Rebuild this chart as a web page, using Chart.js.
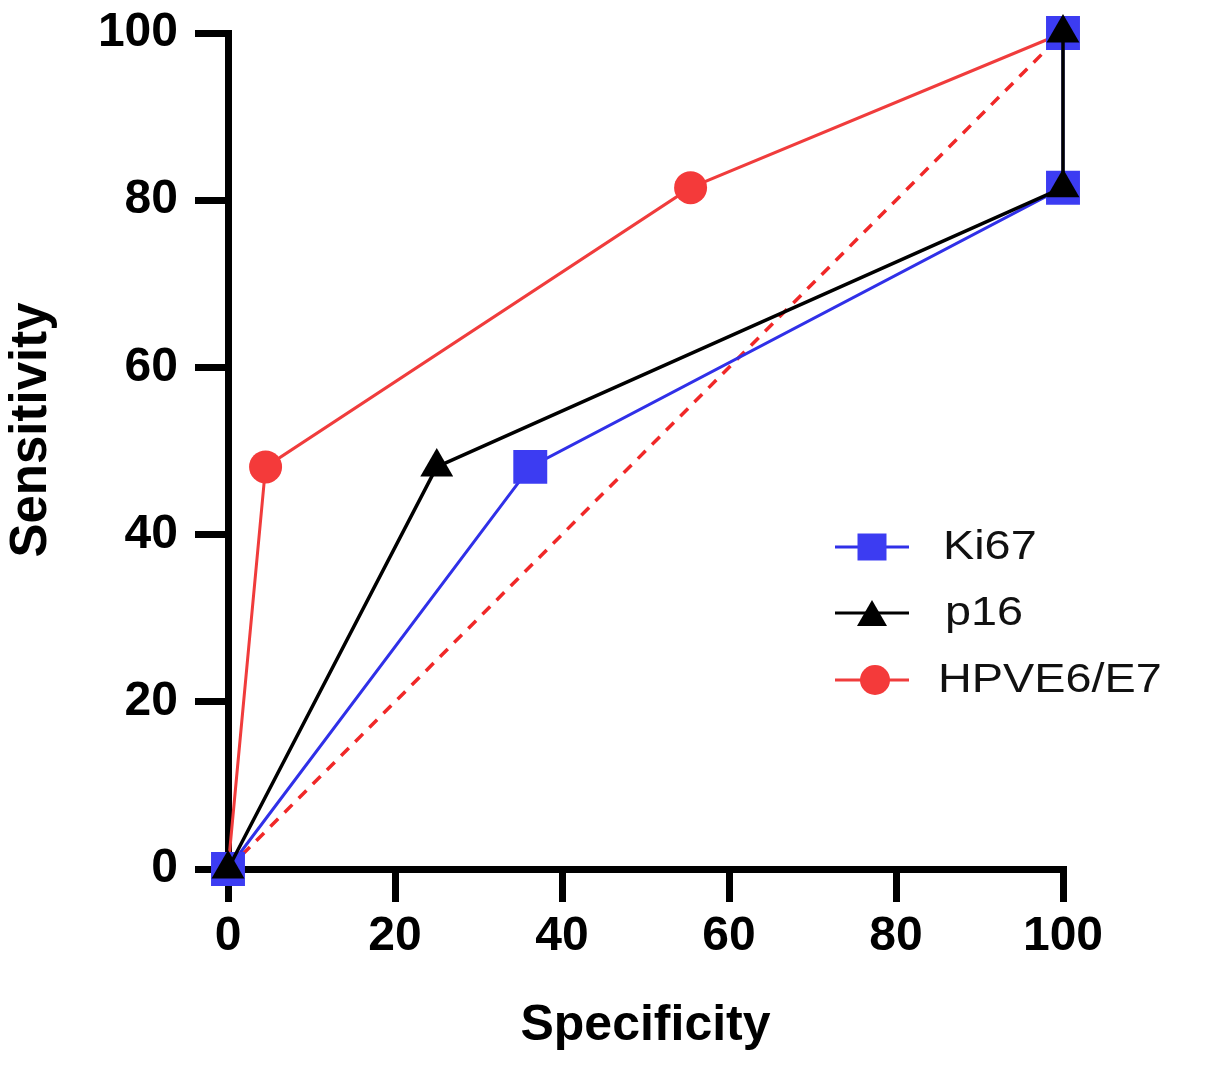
<!DOCTYPE html>
<html>
<head>
<meta charset="utf-8">
<script src="https://cdn.jsdelivr.net/npm/chart.js@4"></script>
<style>
  html, body { margin: 0; padding: 0; background: #fff; }
  #wrap { width: 1205px; height: 1068px; position: relative; }
</style>
</head>
<body>
<div id="wrap"><canvas id="c"></canvas></div>
<script>
// ---- Data ----
const seriesNames = ['Ki67', 'p16', 'HPVE6/E7'];
const ki67Specificity = [0, 36.2, 100, 100];
const ki67Sensitivity = [0, 48.1, 81.5, 100];
const p16Specificity = [0, 25, 100, 100];
const p16Sensitivity = [0, 48.1, 81.5, 100];
const hpvSpecificity = [0, 4.5, 55.4, 100];
const hpvSensitivity = [0, 48.1, 81.5, 100];
const refSpecificity = [0, 100];
const refSensitivity = [0, 100];
const axisTicks = [0, 20, 40, 60, 80, 100];
const xTitle = 'Specificity';
const yTitle = 'Sensitivity';

const toPts = (xs, ys) => xs.map((x, i) => ({ x: x, y: ys[i] }));

const BLUE_LINE = '#3030e8';
const BLUE_PT = '#3c3cf2';
const RED_LINE = '#f03c3c';
const RED_PT = '#f43a3a';
const BLACK = '#000000';

const styles = [
  { line: BLUE_LINE, pt: BLUE_PT, shape: 'rect' },
  { line: BLACK, pt: BLACK, shape: 'triangle' },
  { line: RED_LINE, pt: RED_PT, shape: 'circle' }
];

// custom legend + y title plugin
const decorPlugin = {
  id: 'decor',
  afterDraw(chart) {
    const ctx = chart.ctx;
    ctx.save();
    ctx.font = 'bold 51px "Liberation Sans", Arial, sans-serif';
    ctx.fillStyle = '#000';
    ctx.textAlign = 'center';
    ctx.textBaseline = 'alphabetic';
    ctx.translate(46, 430);
    ctx.rotate(-Math.PI / 2);
    ctx.fillText(yTitle, 0, 0);
    ctx.restore();

    const rowsY = [547, 613, 680];
    const textX = [943, 945, 938];
    seriesNames.forEach((name, i) => {
      const y = rowsY[i];
      const s = styles[i];
      ctx.save();
      ctx.strokeStyle = s.line;
      ctx.lineWidth = 3;
      ctx.beginPath();
      ctx.moveTo(835, y);
      ctx.lineTo(909, y);
      ctx.stroke();
      ctx.fillStyle = s.pt;
      const cx = 872;
      ctx.beginPath();
      if (s.shape === 'rect') {
        ctx.rect(cx - 14.5, y - 13.5, 29, 27);
      } else if (s.shape === 'triangle') {
        ctx.moveTo(cx, y - 13);
        ctx.lineTo(cx + 15, y + 13);
        ctx.lineTo(cx - 15, y + 13);
        ctx.closePath();
      } else {
        ctx.arc(cx + 3, y, 15, 0, Math.PI * 2);
      }
      ctx.fill();
      ctx.restore();

      ctx.save();
      ctx.fillStyle = '#111';
      ctx.font = '40px "Liberation Sans", Arial, sans-serif';
      ctx.textAlign = 'left';
      ctx.textBaseline = 'middle';
      ctx.translate(textX[i], y);
      ctx.scale(1.17, 1);
      ctx.fillText(name, 0, 1);
      ctx.restore();
    });
  }
};

const ctx = document.getElementById('c').getContext('2d');
new Chart(ctx, {
  type: 'line',
  data: {
    datasets: [
      {
        label: seriesNames[1],
        data: toPts(p16Specificity, p16Sensitivity),
        borderColor: BLACK,
        borderWidth: 3.5,
        pointStyle: 'triangle',
        pointRadius: 19,
        pointBackgroundColor: BLACK,
        pointBorderWidth: 0,
        order: 0
      },
      {
        label: seriesNames[0],
        data: toPts(ki67Specificity, ki67Sensitivity),
        borderColor: BLUE_LINE,
        borderWidth: 3,
        pointStyle: 'rect',
        pointRadius: 24,
        pointBackgroundColor: BLUE_PT,
        pointBorderWidth: 0,
        order: 1
      },
      {
        label: seriesNames[2],
        data: toPts(hpvSpecificity, hpvSensitivity),
        borderColor: RED_LINE,
        borderWidth: 3,
        pointStyle: 'circle',
        pointRadius: 16.5,
        pointBackgroundColor: RED_PT,
        pointBorderWidth: 0,
        order: 2
      },
      {
        label: 'reference',
        data: toPts(refSpecificity, refSensitivity),
        borderColor: '#f02828',
        borderWidth: 3.5,
        borderDash: [11, 9],
        pointRadius: 0,
        order: 3
      }
    ]
  },
  options: {
    responsive: true,
    maintainAspectRatio: false,
    animation: false,
    events: [],
    clip: false,
    layout: { padding: { top: 33, right: 142, left: 0, bottom: 0 } },
    plugins: { legend: { display: false }, tooltip: { enabled: false } },
    elements: { line: { tension: 0, fill: false } },
    scales: {
      x: {
        type: 'linear',
        min: 0, max: 100,
        afterBuildTicks(scale) { scale.ticks = axisTicks.map(v => ({ value: v })); },
        afterFit(scale) {
          scale.height = 199;
          scale.paddingLeft = 0; scale.paddingRight = 0;
          scale.paddingTop = 0; scale.paddingBottom = 0;
        },
        border: { display: true, width: 7, color: BLACK },
        grid: { display: true, drawOnChartArea: false, drawTicks: true, tickLength: 33, lineWidth: 7, color: BLACK },
        ticks: {
          color: BLACK,
          padding: 6,
          font: { family: '"Liberation Sans", Arial, sans-serif', size: 48, weight: 'bold' }
        },
        title: {
          display: true,
          text: xTitle,
          color: BLACK,
          padding: { top: 0, bottom: 12 },
          font: { family: '"Liberation Sans", Arial, sans-serif', size: 50, weight: 'bold' }
        }
      },
      y: {
        type: 'linear',
        min: 0, max: 100,
        afterBuildTicks(scale) { scale.ticks = axisTicks.map(v => ({ value: v })); },
        afterFit(scale) {
          scale.width = 228;
          scale.paddingLeft = 0; scale.paddingRight = 0;
          scale.paddingTop = 0; scale.paddingBottom = 0;
        },
        border: { display: true, width: 7, color: BLACK },
        grid: { display: true, drawOnChartArea: false, drawTicks: true, tickLength: 33, lineWidth: 7, color: BLACK },
        ticks: {
          color: BLACK,
          padding: 17,
          font: { family: '"Liberation Sans", Arial, sans-serif', size: 48, weight: 'bold' }
        },
        title: { display: false }
      }
    }
  },
  plugins: [decorPlugin]
});
</script>
</body>
</html>
